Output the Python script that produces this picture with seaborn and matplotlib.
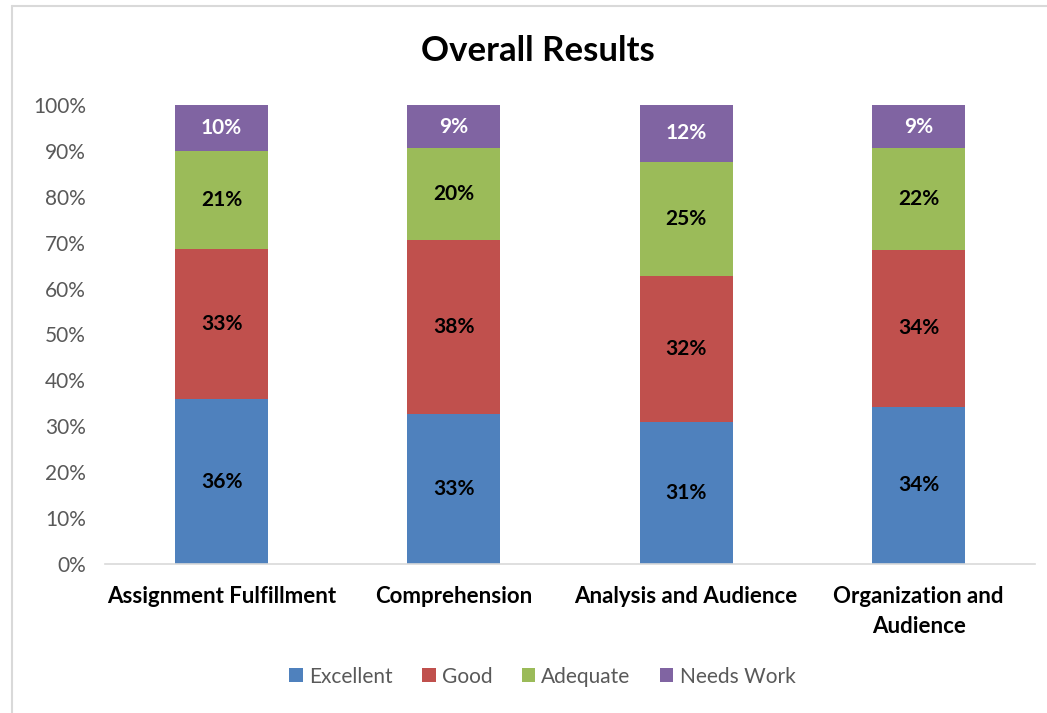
import pandas as pd
import numpy as np
import matplotlib
matplotlib.use("Agg")
import matplotlib.pyplot as plt
from matplotlib.lines import Line2D
from matplotlib.patches import Patch
import seaborn as sns

# data (percent of responses)
categories = ["Assignment Fulfillment", "Comprehension", "Analysis and Audience",
              "Organization and\nAudience"]
ratings = ["Excellent", "Good", "Adequate", "Needs Work"]
excellent = [35.9, 32.7, 30.9, 34.3]
good = [32.7, 37.9, 31.8, 34.1]
adequate = [21.4, 20.0, 24.9, 22.2]
needs_work = [10.0, 9.4, 12.4, 9.4]
yticks = [0, 10, 20, 30, 40, 50, 60, 70, 80, 90, 100]

colors = ["#4F81BD", "#C0504D", "#9BBB59", "#8064A2"]
label_colors = ["black", "black", "black", "white"]

sns.set_style("white")
plt.rcParams["font.family"] = ["Lato", "DejaVu Sans"]

fig = plt.figure(figsize=(10.47, 7.13), dpi=100)
ax = fig.add_axes([0.1006, 0.209, 0.8877, 0.6438])

series = [excellent, good, adequate, needs_work]
bottom = np.zeros(len(categories))
for name, vals, col, lcol in zip(ratings, series, colors, label_colors):
    df = pd.DataFrame({"category": categories, "value": vals})
    sns.barplot(data=df, x="category", y="value", color=col, width=0.4,
                bottom=bottom, ax=ax, saturation=1, linewidth=0)
    for i, v in enumerate(vals):
        ax.text(i, bottom[i] + v / 2, f"{v:.0f}%", ha="center", va="center",
                fontsize=15, fontweight="bold", color=lcol)
    bottom = bottom + np.array(vals)

ax.set_ylim(0, 100)
ax.set_xlim(-0.5, len(categories) - 0.5)
ax.set_yticks(yticks)
ax.set_yticklabels([f"{t}%" for t in yticks], fontsize=15, color="#595959")
ax.tick_params(axis="y", length=0, pad=14)
ax.tick_params(axis="x", length=0, pad=16)
for lbl in ax.get_xticklabels():
    lbl.set_fontsize(16)
    lbl.set_fontweight("bold")
    lbl.set_color("black")
    lbl.set_linespacing(1.5)
ax.set_xlabel("")
ax.set_ylabel("")
for s in ["top", "right", "left"]:
    ax.spines[s].set_visible(False)
ax.spines["bottom"].set_color("#D9D9D9")
ax.spines["bottom"].set_linewidth(1.2)

fig.text(0.514, 0.928, "Overall Results", ha="center", va="center",
         fontsize=25, fontweight="bold", color="black")

handles = [Patch(facecolor=c, edgecolor="none") for c in colors]
fig.legend(handles, ratings, loc="center", bbox_to_anchor=(0.518, 0.051), ncol=4,
           frameon=False, fontsize=15, handlelength=0.65, handleheight=0.65,
           handletextpad=0.3, columnspacing=1.4, labelcolor="#595959")

# chart frame
fig.add_artist(Line2D([12 / 1047, 12 / 1047], [0, 1 - 6 / 713], color="#D9D9D9", lw=1.5))
fig.add_artist(Line2D([12 / 1047, 1], [1 - 6 / 713, 1 - 6 / 713], color="#D9D9D9", lw=1.5))

fig.savefig("out.png", dpi=100)
